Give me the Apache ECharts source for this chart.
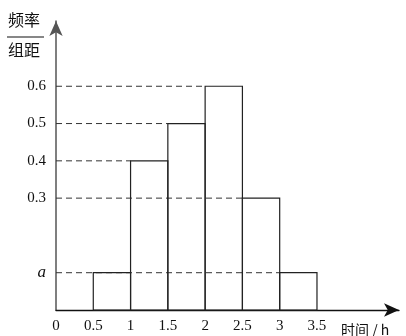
<!DOCTYPE html>
<html><head><meta charset="utf-8">
<script src="https://cdn.jsdelivr.net/npm/echarts@6/dist/echarts.min.js"></script>
<style>html,body{margin:0;padding:0;background:#fff}#c{width:406px;height:336px}</style>
</head><body><div id="c"></div>
<script>
// data
var binStarts = [0.5, 1, 1.5, 2, 2.5, 3];
var binEnds   = [1, 1.5, 2, 2.5, 3, 3.5];
var freqs     = [0.1, 0.4, 0.5, 0.6, 0.3, 0.1];   // 0.1 is shown as "a"
var xTickValues = [0, 0.5, 1, 1.5, 2, 2.5, 3, 3.5];
var xTickLabels = ['0', '0.5', '1', '1.5', '2', '2.5', '3', '3.5'];
var yTickValues = [0.1, 0.3, 0.4, 0.5, 0.6];
var yTickLabels = ['a', '0.3', '0.4', '0.5', '0.6'];

var barData = binStarts.map(function (s, i) { return [s, binEnds[i], freqs[i]]; });
// dashed guide: from y-axis to left edge of the right-most bar of each height
var guideMap = {};
binStarts.forEach(function (s, i) {
  var k = freqs[i];
  if (guideMap[k] === undefined || s > guideMap[k]) guideMap[k] = s;
});
var guideData = Object.keys(guideMap).map(function (k) { return [0, guideMap[k], +k]; });

var serif = '"Liberation Serif","DejaVu Serif",serif';
var chart = echarts.init(document.getElementById('c'), null, {renderer: 'canvas'});
chart.setOption({
  animation: false,
  grid: {left: 56, right: 7, top: 21, bottom: 26},
  xAxis: {
    type: 'value', min: 0, max: 4.6,
    axisLine: {show: true, symbol: ['none', 'arrow'], symbolSize: [10, 15], lineStyle: {color: '#111', width: 1.3}},
    axisTick: {show: false},
    splitLine: {show: false},
    axisLabel: {
      customValues: xTickValues,
      formatter: function (v) { var i = xTickValues.indexOf(v); return i >= 0 ? xTickLabels[i] : ''; },
      color: '#111', fontFamily: serif, fontSize: 15, margin: 9
    }
  },
  yAxis: {
    type: 'value', min: 0, max: 0.775,
    axisLine: {show: true, symbol: ['none', 'arrow'], symbolSize: [10, 15], lineStyle: {color: '#555', width: 1.5}},
    axisTick: {show: false},
    splitLine: {show: false},
    axisLabel: {
      customValues: yTickValues,
      formatter: function (v) {
        var i = yTickValues.indexOf(v); if (i < 0) return '';
        return yTickLabels[i] === 'a' ? '{it|a}' : yTickLabels[i];
      },
      rich: {it: {fontStyle: 'italic', fontFamily: serif, fontSize: 17, color: '#111'}},
      color: '#111', fontFamily: serif, fontSize: 15, margin: 10
    }
  },
  graphic: [
    {type: 'text', left: 8, top: 12, style: {text: '频率', font: '16px "Noto Sans CJK SC"', fill: '#111'}},
    {type: 'line', shape: {x1: 7, y1: 37, x2: 44, y2: 37}, style: {stroke: '#111', lineWidth: 1.2}},
    {type: 'text', left: 8, top: 42, style: {text: '组距', font: '16px "Noto Sans CJK SC"', fill: '#111'}},
    {type: 'text', left: 341, top: 323, style: {text: '时间 / h', font: '14px "Noto Sans CJK SC"', fill: '#111'}}
  ],
  series: [
    {
      type: 'custom', data: guideData, z: 1,
      renderItem: function (params, api) {
        var p0 = api.coord([api.value(0), api.value(2)]);
        var p1 = api.coord([api.value(1), api.value(2)]);
        return {type: 'line', shape: {x1: p0[0], y1: p0[1], x2: p1[0], y2: p1[1]},
          style: {stroke: '#333', lineWidth: 1, lineDash: [6, 4]}};
      }
    },
    {
      type: 'custom', data: barData, z: 2,
      renderItem: function (params, api) {
        var tl = api.coord([api.value(0), api.value(2)]);
        var br = api.coord([api.value(1), 0]);
        return {type: 'rect', shape: {x: tl[0], y: tl[1], width: br[0] - tl[0], height: br[1] - tl[1]},
          style: {fill: 'none', stroke: '#222', lineWidth: 1.2}};
      }
    }
  ]
});
</script></body></html>
